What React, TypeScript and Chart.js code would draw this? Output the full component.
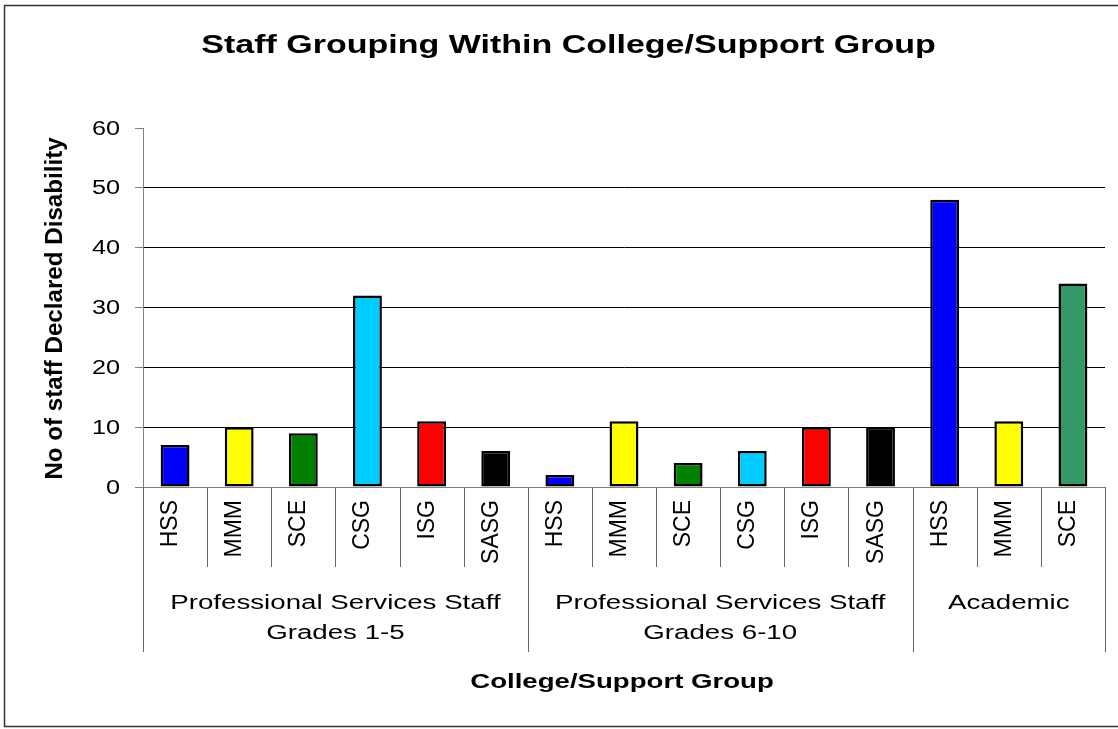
import React, { useEffect, useRef } from 'react';
import { Chart, registerables } from 'chart.js';

Chart.register(...registerables);

const TITLE = 'Staff Grouping Within College/Support Group';
const Y_TITLE = 'No of staff Declared Disability';
const X_TITLE = 'College/Support Group';

const CATEGORIES = ['HSS', 'MMM', 'SCE', 'CSG', 'ISG', 'SASG', 'HSS', 'MMM', 'SCE', 'CSG', 'ISG', 'SASG', 'HSS', 'MMM', 'SCE'];
const VALUES = [7, 10, 9, 32, 11, 6, 2, 11, 4, 6, 10, 10, 48, 11, 34];
const BAR_COLORS = [
  '#0000FF', '#FFFF00', '#008000', '#00CCFF', '#FF0000', '#000000',
  '#0000FF', '#FFFF00', '#008000', '#00CCFF', '#FF0000', '#000000',
  '#0000FF', '#FFFF00', '#339966',
];
const GROUP_LABELS = [
  ['Professional Services Staff', 'Grades 1-5'],
  ['Professional Services Staff', 'Grades 6-10'],
  ['Academic'],
];
const GROUP_SIZES = [6, 6, 3];
const Y_MIN = 0;
const Y_MAX = 60;
const Y_STEP = 10;

const FAMILY = '"Liberation Sans", Arial, Helvetica, sans-serif';

function drawText(
  ctx: CanvasRenderingContext2D,
  text: string,
  x: number,
  y: number,
  size: number,
  bold: boolean,
  sx: number,
  rot: number,
  align: CanvasTextAlign,
  baseline: CanvasTextBaseline
) {
  ctx.save();
  ctx.translate(x, y);
  if (rot) ctx.rotate(rot);
  ctx.scale(sx, 1);
  ctx.font = `${bold ? 'bold ' : ''}${size}px ${FAMILY}`;
  ctx.fillStyle = '#000';
  ctx.textAlign = align;
  ctx.textBaseline = baseline;
  ctx.fillText(text, 0, 0);
  ctx.restore();
}

const excelPlugin = {
  id: 'excelDecor',
  afterDraw(chart: any) {
    const ctx: CanvasRenderingContext2D = chart.ctx;
    const xs = chart.scales.x;
    const ys = chart.scales.y;
    const area = chart.chartArea;
    const catBottom = 567;
    const groupBottom = 652;

    ctx.save();
    // outer frame
    ctx.strokeStyle = '#333';
    ctx.lineWidth = 1.5;
    ctx.beginPath();
    ctx.moveTo(1130, 5.5);
    ctx.lineTo(4.5, 5.5);
    ctx.lineTo(4.5, 726.5);
    ctx.lineTo(1130, 726.5);
    ctx.stroke();

    // category / group separators
    ctx.strokeStyle = '#666';
    ctx.lineWidth = 1;
    const bounds: number[] = [];
    let acc = 0;
    GROUP_SIZES.forEach((g) => { acc += g; bounds.push(acc); });
    const line = (x: number, y0: number, y1: number) => {
      const px = Math.round(x) + 0.5;
      ctx.beginPath();
      ctx.moveTo(px, y0);
      ctx.lineTo(px, y1);
      ctx.stroke();
    };
    line(area.left - 0.5, area.bottom, groupBottom);
    line(area.right - 0.5, area.bottom, groupBottom);
    for (let i = 1; i < CATEGORIES.length; i++) {
      const bx = (xs.getPixelForValue(i - 1) + xs.getPixelForValue(i)) / 2;
      line(bx, area.bottom, bounds.includes(i) ? groupBottom : catBottom);
    }
    ctx.restore();

    // title
    drawText(ctx, TITLE, 568.5, 53, 25, true, 1.36, 0, 'center', 'alphabetic');

    // y tick labels
    ys.ticks.forEach((t: any) => {
      const y = ys.getPixelForValue(t.value);
      drawText(ctx, String(t.value), 120, y + 1, 20, false, 1.26, 0, 'right', 'middle');
    });

    // y title
    drawText(ctx, Y_TITLE, 61.5, (area.top + area.bottom) / 2 + 1, 23, true, 1.05, -Math.PI / 2, 'center', 'alphabetic');

    // category labels
    CATEGORIES.forEach((c, i) => {
      const cx = xs.getPixelForValue(i);
      drawText(ctx, c, cx + 2, 500, 23, false, 1.0, -Math.PI / 2, 'right', 'alphabetic');
    });

    // group labels
    let start = 0;
    GROUP_SIZES.forEach((g, gi) => {
      const l = start === 0 ? area.left : (xs.getPixelForValue(start - 1) + xs.getPixelForValue(start)) / 2;
      const end = start + g;
      const r = end >= CATEGORIES.length ? area.right : (xs.getPixelForValue(end - 1) + xs.getPixelForValue(end)) / 2;
      const cx = (l + r) / 2;
      GROUP_LABELS[gi].forEach((txt, li) => {
        drawText(ctx, txt, cx, 609 + li * 30, 19.5, false, 1.42, 0, 'center', 'alphabetic');
      });
      start = end;
    });

    // x title
    drawText(ctx, X_TITLE, 622, 688, 20, true, 1.38, 0, 'center', 'alphabetic');
  },
};

export default function App() {
  const ref = useRef<HTMLCanvasElement | null>(null);

  useEffect(() => {
    if (!ref.current) return;
    const chart = new Chart(ref.current, {
      type: 'bar',
      data: {
        labels: CATEGORIES,
        datasets: [
          {
            data: VALUES,
            backgroundColor: BAR_COLORS,
            borderColor: '#000',
            borderWidth: 2.5,
            borderSkipped: false,
            barPercentage: 0.9,
            categoryPercentage: 0.5,
          },
        ],
      },
      options: {
        responsive: false,
        animation: false,
        devicePixelRatio: 1,
        layout: { padding: { top: 128, right: 13, left: 0, bottom: 0 } },
        plugins: {
          legend: { display: false },
          title: { display: false },
          tooltip: { enabled: false },
        },
        scales: {
          x: {
            type: 'category',
            offset: true,
            grid: { display: false },
            border: { display: true, color: '#808080', width: 1 },
            ticks: { display: false },
            afterFit: (s: any) => { s.height = 729 - 487; },
          },
          y: {
            min: Y_MIN,
            max: Y_MAX,
            ticks: { display: false, stepSize: Y_STEP },
            grid: {
              color: (c: any) => (c.tick && (c.tick.value === Y_MIN || c.tick.value === Y_MAX) ? 'rgba(0,0,0,0)' : '#000'),
              tickColor: '#808080',
              tickLength: 8,
              drawTicks: true,
              lineWidth: 1,
            },
            border: { display: true, color: '#808080', width: 1 },
            afterFit: (s: any) => { s.width = 143; },
          },
        },
      },
      plugins: [excelPlugin],
    });
    return () => chart.destroy();
  }, []);

  return (
    <div style={{ position: 'absolute', left: 0, top: 0, width: 1118, height: 729, background: '#fff' }}>
      <canvas ref={ref} width={1118} height={729} style={{ display: 'block' }} />
    </div>
  );
}
